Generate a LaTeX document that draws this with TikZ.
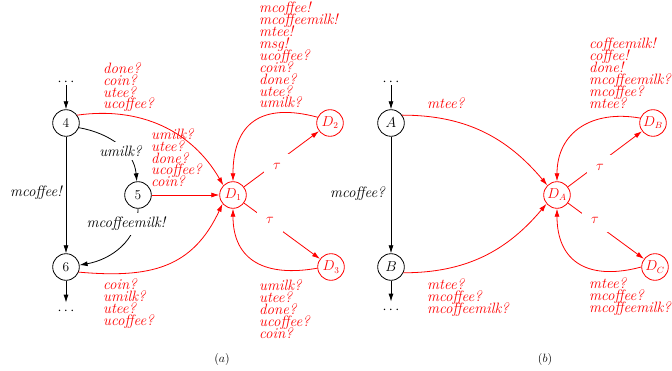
\documentclass[tikz,border=0pt]{standalone}
\usetikzlibrary{arrows.meta}
\newcommand\lblfont{\fontsize{15}{11.9}\selectfont\itshape\lineskiplimit=-100pt\relax}
\lineskiplimit=-100pt
\begin{document}
\begin{tikzpicture}[x=1pt,y=1pt,
 st/.style={circle,draw,line width=0.8pt,minimum size=26.6pt,inner sep=0pt,font=\fontsize{13.5}{16}\selectfont},
 rst/.style={st,draw=red,text=red},
 arr/.style={line width=0.8pt,-{Latex[length=8pt,width=5pt]}},
 rarr/.style={arr,red},
 lbl/.style={font=\lblfont,inner sep=0pt},
 rlbl/.style={lbl,text=red,align=left,anchor=north west},
 onlbl/.style={lbl,fill=white,inner xsep=2pt,inner ysep=4pt},
 tau/.style={text=red,fill=white,inner sep=9pt,font=\fontsize{14}{16}\selectfont},
 dotsn/.style={inner sep=0pt,font=\fontsize{14}{16}\selectfont},
 capt/.style={font=\fontsize{13}{16}\selectfont}]
\useasboundingbox (0,0) rectangle (672,370);
% ---------- (a) ----------
\node[dotsn] (t1) at (66,288) {$\cdots$};
\node[st] (n4) at (66,247) {4};
\node[st] (n5) at (138,175) {5};
\node[st] (n6) at (66,103) {6};
\node[dotsn,inner ysep=5pt] (b1) at (66,59) {$\cdots$};
\node[rst] (D1) at (233,175) {$D_1$};
\node[rst] (D2) at (330,247) {$D_2$};
\node[rst] (D3) at (331,103) {$D_3$};

\draw[arr] (t1) -- (n4);
\draw[arr] (n4) -- (n6);
\draw[arr] (n6) -- (b1);
\draw[arr] (n4.-20) to[out=-10,in=95] (n5.95);
\draw[arr] (n5.-90) to[out=-90,in=10] (n6.8);

\draw[rarr] (n4.35) to[out=8,in=120] (D1.135);
\draw[rarr] (n6.-22) to[out=-5,in=-115,looseness=1.15] (D1.-140);
\draw[rarr] (n5) -- (D1);
\draw[rarr] (D1) -- (D2);
\draw[rarr] (D1) -- (D3);
\draw[rarr] (D2.155) to[out=165,in=90,looseness=1.4] (D1.90);
\draw[rarr] (D3.185) to[out=190,in=-90,looseness=1.3] (D1.-90);

\node[lbl,anchor=east] (lmc) at (62,177) {mcoffee!};
\node[onlbl] (lum) at (120.5,219) {umilk?};
\node[onlbl] (lmcm) at (126,146) {mcoffeemilk!};
\node[tau] (tau1) at (277,204) {$\tau$};
\node[tau] (tau2) at (270,150) {$\tau$};

\node[rlbl] (r1) at (103,307.7) {done?\\coin?\\utee?\\ucoffee?};
\node[rlbl] (r2) at (151,241.7) {umilk?\\utee?\\done?\\ucoffee?\\coin?};
\node[rlbl] (r3) at (103,91.5) {coin?\\umilk?\\utee?\\ucoffee?};
\node[rlbl] (r4) at (259,368.2) {mcoffee!\\mcoffeemilk!\\mtee!\\msg!\\ucoffee?\\coin?\\done?\\utee?\\umilk?};
\node[rlbl] (r5) at (259,90.2) {umilk?\\utee?\\done?\\ucoffee?\\coin?};

\node[capt] (ca) at (222,11) {$(a)$};

% ---------- (b) ----------
\node[dotsn] (t2) at (391,288) {$\cdots$};
\node[st] (nA) at (391,247) {$A$};
\node[st] (nB) at (391,103) {$B$};
\node[dotsn,inner ysep=5pt] (b2) at (391,60) {$\cdots$};
\node[rst] (DA) at (557,175) {$D_A$};
\node[rst] (DB) at (653,247) {$D_B$};
\node[rst] (DC) at (655,103) {$D_C$};

\draw[arr] (t2) -- (nA);
\draw[arr] (nA) -- (nB);
\draw[arr] (nB) -- (b2);

\draw[rarr] (nA.35) to[out=0,in=130] (DA.135);
\draw[rarr] (nB.-25) to[out=0,in=-130] (DA.-140);
\draw[rarr] (DA) -- (DB);
\draw[rarr] (DA) -- (DC);
\draw[rarr] (DB.159) to[out=170,in=90,looseness=1.2] (DA.90);
\draw[rarr] (DC.180) to[out=195,in=-90,looseness=1.35] (DA.-90);

\node[lbl,anchor=east] (lmq) at (385,176) {mcoffee?};
\node[tau] (tau3) at (600,203) {$\tau$};
\node[tau] (tau4) at (595,150) {$\tau$};

\node[rlbl] (r6) at (427,272.2) {mtee?};
\node[rlbl] (r7) at (427,91.2) {mtee?\\mcoffee?\\mcoffeemilk?};
\node[rlbl] (r8) at (589,332.2) {coffeemilk!\\coffee!\\done!\\mcoffeemilk?\\mcoffee?\\mtee?};
\node[rlbl] (r9) at (589,92.2) {mtee?\\mcoffee?\\mcoffeemilk?};

\node[capt] (cb) at (545,11) {$(b)$};
\end{tikzpicture}
\end{document}
